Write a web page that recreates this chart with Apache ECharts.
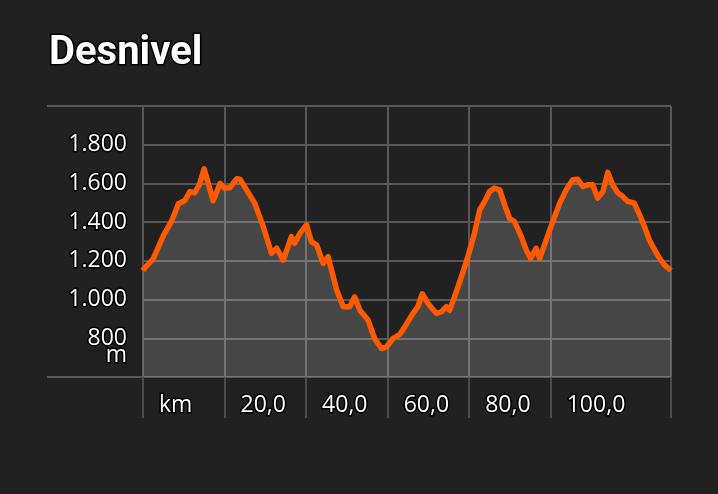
<!DOCTYPE html>
<html>
<head>
<meta charset="utf-8">
<script src="https://cdn.jsdelivr.net/npm/echarts@6/dist/echarts.min.js"></script>
<style>
html,body{margin:0;padding:0;background:#212121;}
#c{width:718px;height:494px;}
</style>
</head>
<body>
<div id="c"></div>
<script>
const distanceKm = [0, 0.3, 2.5, 5, 7, 8.7, 10.3, 11.5, 12.7, 13.8, 15, 16, 17.2, 18.9, 20, 21.3, 23, 23.8, 25.4, 27.4, 29.5, 31.5, 32.8, 34.4, 36.4, 37.2, 38.5, 40.1, 41.3, 42.6, 44.2, 45.4, 47.5, 49.1, 50.7, 51.9, 53.2, 55.2, 56.8, 58.5, 59.7, 61.3, 63, 64.2, 66.2, 67.4, 68.5, 69.9, 72, 73.2, 74.4, 75.2, 76.4, 78.1, 79.7, 81.3, 82.6, 83.8, 85, 86.2, 87.5, 88.7, 89.9, 91.1, 92.8, 94, 95.1, 96.4, 97.3, 98.9, 100.5, 102.2, 103.8, 105.4, 106.6, 107.9, 109.1, 110.3, 111.5, 112.8, 114, 115.2, 116.5, 117.7, 118.9, 120.5, 121.8, 123, 124.2, 125.5, 126.7, 127.9, 129.5];
const elevationM = [1150, 1161, 1210, 1330, 1405, 1495, 1512, 1558, 1552, 1593, 1675, 1602, 1510, 1600, 1576, 1578, 1624, 1622, 1567, 1498, 1377, 1239, 1265, 1204, 1325, 1291, 1343, 1386, 1299, 1282, 1187, 1222, 1049, 963, 963, 1014, 945, 894, 799, 747, 755, 799, 821, 859, 928, 963, 1030, 980, 928, 937, 963, 945, 1014, 1118, 1222, 1343, 1464, 1507, 1558, 1576, 1567, 1489, 1420, 1403, 1325, 1256, 1213, 1265, 1213, 1308, 1403, 1498, 1567, 1619, 1622, 1584, 1593, 1593, 1524, 1558, 1657, 1593, 1550, 1532, 1507, 1498, 1438, 1377, 1308, 1256, 1213, 1179, 1150];
const xTickValues = [0, 20, 40, 60, 80, 100, 129.5];
const xLabelValues = [0, 20, 40, 60, 80, 100];
const yLabelValues = [800, 1000, 1200, 1400, 1600, 1800];
const yEdgeValues = [600, 2000];
const yUnitValues = [800];
const titleText = 'Desnivel';
const xUnitText = 'km';
const yUnitText = 'm';

const labelFont = {
  color: '#ffffff', fontSize: 23, fontFamily: 'Open Sans',
  textBorderColor: '#000000', textBorderWidth: 3
};
function fmtThousands(v) {
  return String(v).replace(/\B(?=(\d{3})+(?!\d))/g, '.');
}
const chart = echarts.init(document.getElementById('c'));
chart.setOption({
  backgroundColor: '#212121',
  animation: false,
  title: {
    text: titleText, left: 44, top: 27,
    textStyle: {
      color: '#ffffff', fontSize: 40, fontWeight: 'bold', fontFamily: 'Roboto',
      textBorderColor: '#000000', textBorderWidth: 3, lineHeight: 44
    }
  },
  grid: { left: 143, right: 47, top: 106, bottom: 117, containLabel: false },
  xAxis: {
    type: 'value', min: 0, max: 129.5, interval: 20,
    axisLine: { show: false },
    axisTick: { show: true, customValues: xTickValues, length: 41, inside: false,
      lineStyle: { color: '#4c4c4c', width: 2 } },
    splitLine: { show: true, lineStyle: { color: '#585858', width: 2 } },
    axisLabel: Object.assign({
      customValues: xLabelValues,
      formatter: v => v === 0 ? xUnitText : v.toFixed(1).replace('.', ','),
      align: 'left', padding: [0, 0, 0, 16], margin: 17
    }, labelFont)
  },
  yAxis: [{
    type: 'value', min: 600, max: 2000, interval: 200, position: 'left',
    axisLine: { show: false }, axisTick: { show: false },
    splitLine: { show: true, lineStyle: { color: '#585858', width: 2 } },
    axisLabel: Object.assign({
      customValues: yLabelValues, margin: 16,
      formatter: v => fmtThousands(v)
    }, labelFont)
  }, {
    type: 'value', min: 600, max: 2000, interval: 200, position: 'left',
    axisLine: { show: false }, splitLine: { show: false },
    axisTick: { show: true, customValues: yEdgeValues, length: 96, inside: false,
      lineStyle: { color: '#585858', width: 2 } },
    axisLabel: Object.assign({
      customValues: yUnitValues, margin: 16, verticalAlign: 'top', lineHeight: 34,
      formatter: () => yUnitText
    }, labelFont)
  }],
  series: [{
    type: 'line', xAxisIndex: 0, yAxisIndex: 0,
    data: distanceKm.map((k, i) => [k, elevationM[i]]),
    showSymbol: false, smooth: false,
    lineStyle: { color: '#ff5a00', width: 5.5, join: 'round' },
    areaStyle: { color: 'rgba(255,255,255,0.24)' }
  }]
});
</script>
</body>
</html>
